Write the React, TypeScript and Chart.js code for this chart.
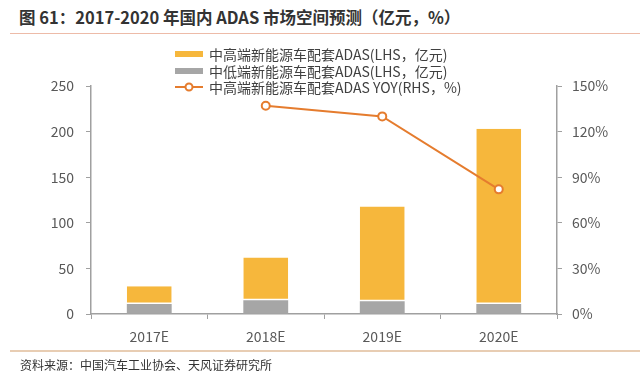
import React, { useEffect, useRef } from "react";
import { Chart, registerables } from "chart.js";

Chart.register(...registerables);

const categories = ["2017E", "2018E", "2019E", "2020E"];
const highEnd = [19.5, 47, 104, 192];
const lowEnd = [11, 15, 14, 11];
const yoy = [null, 137, 130, 82];
const leftTicks = [0, 50, 100, 150, 200, 250];
const rightTicks = [0, 30, 60, 90, 120, 150];

const labels = [
  "中高端新能源车配套ADAS(LHS，亿元)",
  "中低端新能源车配套ADAS(LHS，亿元)",
  "中高端新能源车配套ADAS YOY(RHS，%)",
];

const ORANGE = "#F6B73C";
const GRAY = "#A6A6A6";
const LINE = "#E57C2E";
const AXIS = "#A0A0A0";
const FONT = '"Noto Sans CJK SC", "Noto Sans", sans-serif';

const legendPlugin = {
  id: "customLegend",
  afterDraw(chart: any) {
    const ctx = chart.ctx;
    ctx.save();
    const x0 = 175;
    const ys = [54, 71, 87];
    ctx.font = `14px ${FONT}`;
    ctx.textBaseline = "middle";
    ys.forEach((y, i) => {
      if (i === 0 || i === 1) {
        ctx.fillStyle = i === 0 ? ORANGE : GRAY;
        ctx.fillRect(x0, y - 3, 28, 6);
      } else {
        ctx.strokeStyle = LINE;
        ctx.lineWidth = 2;
        ctx.beginPath();
        ctx.moveTo(x0, y);
        ctx.lineTo(x0 + 28, y);
        ctx.stroke();
        ctx.beginPath();
        ctx.arc(x0 + 14, y, 3.5, 0, Math.PI * 2);
        ctx.fillStyle = "#fff";
        ctx.fill();
        ctx.stroke();
      }
      ctx.fillStyle = "#404040";
      ctx.fillText(labels[i], x0 + 34, y + 1);
    });
    ctx.restore();
  },
};

export default function App() {
  const ref = useRef<HTMLCanvasElement>(null);
  useEffect(() => {
    const chart = new Chart(ref.current as HTMLCanvasElement, {
      type: "bar",
      data: {
        labels: categories,
        datasets: [
          {
            type: "bar",
            label: labels[0],
            data: highEnd,
            backgroundColor: ORANGE,
            borderColor: "rgba(255,255,255,0.9)",
            borderWidth: { top: 0, left: 0, right: 0, bottom: 1.5 },
            borderSkipped: false,
            yAxisID: "y",
            order: 2,
            barPercentage: 0.385,
            categoryPercentage: 1,
          },
          {
            type: "bar",
            label: labels[1],
            data: lowEnd,
            backgroundColor: GRAY,
            borderWidth: 0,
            yAxisID: "y",
            order: 1,
            barPercentage: 0.385,
            categoryPercentage: 1,
          },
          {
            type: "line",
            label: labels[2],
            data: yoy as any,
            borderColor: LINE,
            borderWidth: 2,
            pointRadius: 4,
            pointBorderWidth: 2,
            pointBackgroundColor: "#fff",
            pointBorderColor: LINE,
            yAxisID: "y1",
            order: 0,
            tension: 0,
          } as any,
        ],
      },
      options: {
        animation: false,
        responsive: false,
        maintainAspectRatio: false,
        layout: { padding: { top: 86, left: 0, right: 0, bottom: 0 } },
        plugins: { legend: { display: false }, tooltip: { enabled: false } },
        scales: {
          x: {
            stacked: true,
            offset: true,
            grid: { drawOnChartArea: false, tickLength: 5, color: AXIS, offset: true },
            border: { color: AXIS, width: 1.5 },
            ticks: { color: "#595959", font: { family: FONT, size: 14 }, padding: 9 },
            afterFit: (s: any) => { s.height = 379 - 314; },
          },
          y: {
            stacked: true,
            position: "left",
            min: 0,
            max: 250,
            afterBuildTicks: (s: any) => { s.ticks = leftTicks.map((v) => ({ value: v })); },
            grid: { drawOnChartArea: false, tickLength: 5, color: AXIS },
            border: { color: AXIS, width: 1.5 },
            ticks: { color: "#595959", font: { family: FONT, size: 14 }, padding: 12 },
            afterFit: (s: any) => { s.width = 91; },
          },
          y1: {
            stacked: false,
            position: "right",
            min: 0,
            max: 150,
            afterBuildTicks: (s: any) => { s.ticks = rightTicks.map((v) => ({ value: v })); },
            grid: { drawOnChartArea: false, tickLength: 5, color: AXIS },
            border: { color: AXIS, width: 1.5 },
            ticks: {
              color: "#595959",
              font: { family: FONT, size: 14 },
              padding: 10,
              callback: (v: any) => v + "%",
            },
            afterFit: (s: any) => { s.width = 640 - 557; },
          },
        },
      },
      plugins: [legendPlugin],
    });
    return () => chart.destroy();
  }, []);

  return (
    <div style={{ position: "fixed", left: 0, top: 0, width: 640, height: 379, background: "#fff", overflow: "hidden", fontFamily: FONT }}>
      <div style={{ position: "absolute", left: 19, top: 7, fontSize: 16.5, fontWeight: "bold", color: "#333", lineHeight: "20px", whiteSpace: "nowrap" }}>
        图 61：2017-2020 年国内 ADAS 市场空间预测（亿元，%）
      </div>
      <div style={{ position: "absolute", left: 10, right: 0, top: 33, height: 1, background: "#EDBBA8" }} />
      <canvas ref={ref} width={640} height={379} style={{ position: "absolute", left: 0, top: 0 }} />
      <div style={{ position: "absolute", left: 10, right: 0, top: 350, height: 2, background: "#E8CDB3" }} />
      <div style={{ position: "absolute", left: 20, top: 357, fontSize: 12, color: "#333", lineHeight: "16px", whiteSpace: "nowrap" }}>
        资料来源：中国汽车工业协会、天风证券研究所
      </div>
    </div>
  );
}
